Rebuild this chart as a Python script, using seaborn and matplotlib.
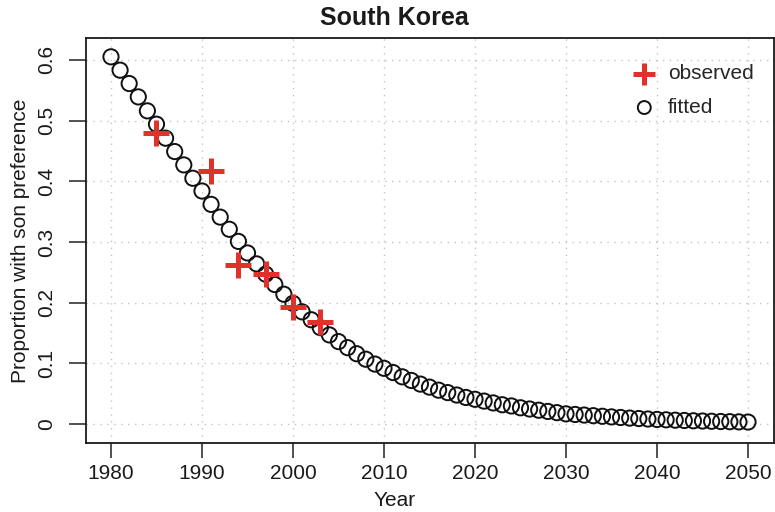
import matplotlib
matplotlib.use("Agg")
import matplotlib.pyplot as plt
import seaborn as sns
import pandas as pd

# Fitted proportion of families with son preference, one value per year
fitted_years = list(range(1980, 2051))
fitted_values = [
    0.605, 0.583, 0.561, 0.539, 0.516, 0.494, 0.471, 0.449, 0.427, 0.405,
    0.384, 0.362, 0.341, 0.321, 0.301, 0.282, 0.264, 0.247, 0.230, 0.214,
    0.199, 0.185, 0.172, 0.159, 0.147, 0.136, 0.126, 0.116, 0.107, 0.099,
    0.092, 0.085, 0.078, 0.072, 0.066, 0.061, 0.056, 0.052, 0.048, 0.044,
    0.041, 0.038, 0.035, 0.032, 0.030, 0.027, 0.025, 0.023, 0.021, 0.019,
    0.017, 0.016, 0.015, 0.014, 0.013, 0.012, 0.011, 0.010, 0.0093, 0.0085,
    0.0078, 0.0072, 0.0066, 0.0061, 0.0056, 0.0052, 0.0048, 0.0044, 0.0041, 0.0038,
    0.0035,
]

# Survey observations
observed_years = [1985, 1991, 1994, 1997, 2000, 2003]
observed_values = [0.480, 0.417, 0.262, 0.248, 0.193, 0.169]

x_ticks = [1980, 1990, 2000, 2010, 2020, 2030, 2040, 2050]
y_ticks = [0, 0.1, 0.2, 0.3, 0.4, 0.5, 0.6]
y_tick_labels = ["0", "0.1", "0.2", "0.3", "0.4", "0.5", "0.6"]

fitted = pd.DataFrame({"Year": fitted_years, "value": fitted_values})
observed = pd.DataFrame({"Year": observed_years, "value": observed_values})

sns.set_theme(style="ticks")
plt.rcParams["font.family"] = ["Liberation Sans", "DejaVu Sans"]

W, H = 775, 512
fig = plt.figure(figsize=(W / 100, H / 100), dpi=100)
ax = fig.add_axes([85.5 / W, 1 - 443 / H, (773.5 - 85.5) / W, (443 - 38) / H])

ink = "#1a1a1a"
red = "#E0312A"
sns.scatterplot(data=fitted, x="Year", y="value", ax=ax, marker="o",
                s=120, facecolors="none", edgecolor="#111111", linewidth=1.4,
                label="fitted", zorder=3)
sns.scatterplot(data=observed, x="Year", y="value", ax=ax, marker="+",
                s=340, color=red, linewidth=3.6, label="observed", zorder=4)

ax.set_xlim(1977.2, 2052.8)
ax.set_ylim(-0.031, 0.636)
ax.set_xticks(x_ticks)
ax.set_xticklabels([str(t) for t in x_ticks], fontsize=15)
ax.set_yticks(y_ticks)
ax.set_yticklabels(y_tick_labels, fontsize=15, rotation=90, va="center")
ax.tick_params(axis="x", direction="out", length=11, width=1.1, color="#222222",
               pad=4, labelcolor=ink)
ax.tick_params(axis="y", direction="out", length=12, width=1.1, color="#222222",
               pad=9, labelcolor=ink)

ax.grid(True, linestyle=(0, (1, 4)), color="#c4c4c4", linewidth=1.0)
for s in ax.spines.values():
    s.set_visible(True)
    s.set_linewidth(1.3)
    s.set_color(ink)

ax.set_ylabel("Proportion with son preference", fontsize=15, color=ink, labelpad=5)
ax.set_xlabel("")
fig.text(395 / W, 1 - 500 / H, "Year", fontsize=15, color=ink,
         ha="center", va="center")
fig.text(394 / W, 1 - 18 / H, "South Korea", fontsize=18, fontweight="bold",
         color=ink, ha="center", va="center")

handles, labels = ax.get_legend_handles_labels()
order = [labels.index("observed"), labels.index("fitted")]
leg = ax.legend([handles[i] for i in order], [labels[i] for i in order],
                loc="upper right", bbox_to_anchor=(754 / W, 1 - 64 / H),
                bbox_transform=fig.transFigure, frameon=False, fontsize=15,
                handletextpad=0.15, borderaxespad=0.0, labelspacing=0.72,
                markerscale=0.85, borderpad=0.0)

fig.savefig("out.png", dpi=100)
